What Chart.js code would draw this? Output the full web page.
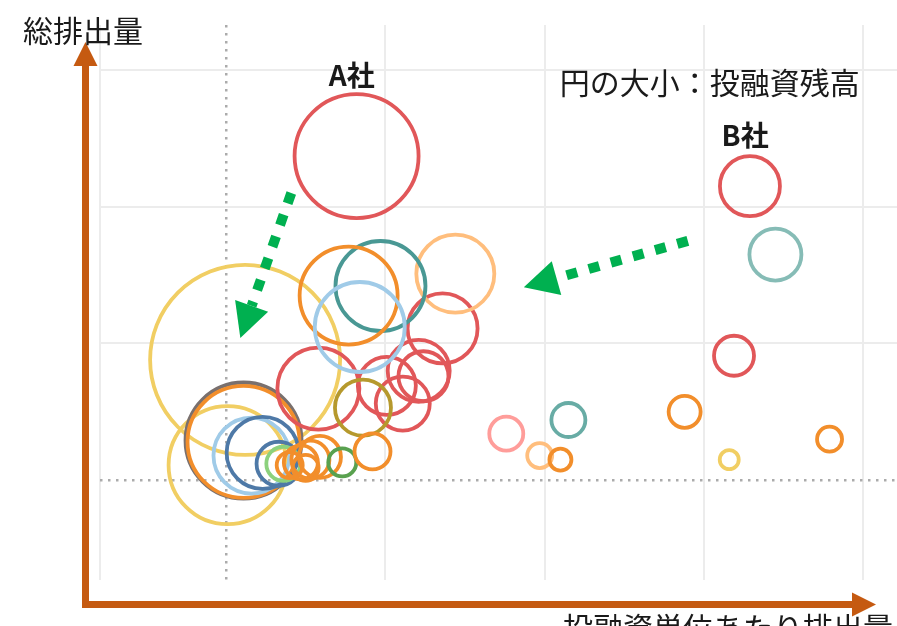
<!DOCTYPE html>
<html lang="ja">
<head>
<meta charset="UTF-8">
<title>総排出量と投融資単位あたり排出量</title>
<script src="https://cdn.jsdelivr.net/npm/chart.js@4.4.0/dist/chart.umd.min.js"></script>
<style>
  body { margin: 0; background: #fff; }
  canvas { display: block; }
</style>
</head>
<body>
<canvas id="bubbleChart" width="897" height="626"></canvas>
<script>
// values (axis units are arbitrary, the chart has no tick labels)
const xTickValues = [1, 2, 3, 4, 5];
const yTickValues = [1, 2, 3, 4];
const averageX = 1;   // dotted line
const averageY = 1;   // dotted line

// 投融資単位あたり排出量
const intensity = [1.12, 1.01, 1.11, 1.11, 1.16, 1.23, 1.58, 2.01, 2.11, 2.21, 2.24, 2.36, 1.86, 2.44, 1.97, 1.77, 1.84, 1.82,
                   1.33, 1.36, 1.40, 1.47, 1.53, 1.59, 1.50, 1.73, 1.92, 2.76, 2.97, 3.10, 3.15, 3.88, 4.19, 4.16, 4.79, 4.29, 4.45];
// 総排出量
const emissions = [1.88, 1.11, 1.29, 1.28, 1.18, 1.20, 1.67, 1.69, 1.56, 1.80, 1.76, 2.11, 1.53, 2.51, 2.42, 2.35, 2.12, 3.37,
                   1.12, 1.12, 1.11, 1.13, 1.15, 1.17, 1.09, 1.13, 1.21, 1.34, 1.18, 1.15, 1.44, 1.50, 1.91, 1.15, 1.30, 3.15, 2.65];
// 投融資残高 (circle size)
const balance = [9.5, 5.9, 5.8, 5.6, 3.8, 3.6, 4.1, 2.9, 2.7, 3.1, 2.5, 3.5, 2.8, 3.9, 4.5, 4.9, 4.5, 6.2,
                 2.2, 1.7, 1.3, 1.7, 1.9, 2.1, 1.3, 1.4, 1.8, 1.7, 1.25, 1.1, 1.7, 1.6, 2.0, 0.95, 1.25, 3.0, 2.6];
// colour group of each circle
const group = ['yellow', 'yellow', 'gray', 'orange', 'lightBlue', 'blue', 'red', 'red', 'red', 'red', 'red', 'red', 'olive',
               'lightOrange', 'teal', 'orange', 'lightBlue', 'red',
               'blue', 'lightGreen', 'orange', 'orange', 'orange', 'orange', 'orange', 'green', 'orange', 'pink',
               'lightOrange', 'orange', 'midTeal', 'orange', 'red', 'yellow', 'orange', 'red', 'lightTeal'];

const companyLabels = [
    { text: 'A社', x: 1.79, y: 3.96 },
    { text: 'B社', x: 4.26, y: 3.52 }
];
const sizeNote = { text: '円の大小：投融資残高', x: 4.98, y: 3.91 };
const trendArrows = [
    { from: [1.41, 3.10], to: [1.09, 2.04] },
    { from: [3.90, 2.75], to: [2.87, 2.41] }
];
const yTitle = '総排出量';
const xTitle = '投融資単位あたり排出量';

const palette = {
    red: '#e15759', lightTeal: '#86bcb6', teal: '#499894', midTeal: '#68aca5',
    orange: '#f28e2b', lightOrange: '#ffbe7d', yellow: '#f1ce63', pink: '#ff9d9a',
    lightBlue: '#a0cbe8', blue: '#4e79a7', green: '#59a14f', lightGreen: '#8cd17d',
    olive: '#b6992d', gray: '#79706e'
};
const RADIUS_PER_UNIT = 10;
const FONT = '"Noto Sans CJK JP", "Noto Sans", sans-serif';
const AXIS_COLOR = '#c55a11';
const ARROW_GREEN = '#00b050';

function drawDashedArrow(ctx, x1, y1, x2, y2) {
    const ang = Math.atan2(y2 - y1, x2 - x1);
    const headLen = 34, headW = 35;
    const bx = x2 - headLen * Math.cos(ang), by = y2 - headLen * Math.sin(ang);
    ctx.save();
    ctx.strokeStyle = ARROW_GREEN;
    ctx.lineWidth = 10;
    ctx.setLineDash([11, 12]);
    ctx.beginPath();
    ctx.moveTo(x1, y1);
    ctx.lineTo(bx, by);
    ctx.stroke();
    ctx.setLineDash([]);
    ctx.fillStyle = ARROW_GREEN;
    ctx.beginPath();
    ctx.moveTo(x2, y2);
    ctx.lineTo(bx + headW / 2 * Math.sin(ang), by - headW / 2 * Math.cos(ang));
    ctx.lineTo(bx - headW / 2 * Math.sin(ang), by + headW / 2 * Math.cos(ang));
    ctx.closePath();
    ctx.fill();
    ctx.restore();
}

const decorations = {
    id: 'decorations',
    afterDatasetsDraw(chart) {
        const ctx = chart.ctx;
        const area = chart.chartArea;
        const xs = chart.scales.x, ys = chart.scales.y;

        // axis arrows
        const vx = area.left - 14.5, hy = area.bottom + 24.5;
        ctx.save();
        ctx.fillStyle = AXIS_COLOR;
        ctx.fillRect(vx - 3.5, area.top + 40, 7, hy + 3.5 - area.top - 40);
        ctx.fillRect(vx - 3.5, hy - 3.5, 852 - vx + 3.5, 7);
        ctx.beginPath();
        ctx.moveTo(vx, area.top + 17);
        ctx.lineTo(vx - 12, area.top + 41);
        ctx.lineTo(vx + 12, area.top + 41);
        ctx.closePath();
        ctx.fill();
        ctx.beginPath();
        ctx.moveTo(876, hy);
        ctx.lineTo(852, hy - 12);
        ctx.lineTo(852, hy + 12);
        ctx.closePath();
        ctx.fill();

        // axis titles
        ctx.fillStyle = '#1a1a1a';
        ctx.font = '30px ' + FONT;
        ctx.textAlign = 'left';
        ctx.textBaseline = 'middle';
        ctx.fillText(yTitle, 23, 31);
        ctx.textBaseline = 'top';
        ctx.fillText(xTitle, 563, 613);

        // note and company labels
        ctx.textBaseline = 'middle';
        ctx.textAlign = 'right';
        ctx.fillText(sizeNote.text, xs.getPixelForValue(sizeNote.x), ys.getPixelForValue(sizeNote.y));
        ctx.font = 'bold 28px ' + FONT;
        ctx.textAlign = 'center';
        companyLabels.forEach(l => {
            ctx.fillText(l.text, xs.getPixelForValue(l.x), ys.getPixelForValue(l.y));
        });
        ctx.restore();

        trendArrows.forEach(a => {
            drawDashedArrow(ctx,
                xs.getPixelForValue(a.from[0]), ys.getPixelForValue(a.from[1]),
                xs.getPixelForValue(a.to[0]), ys.getPixelForValue(a.to[1]));
        });
    }
};

function gridColor(avg) {
    return ctx => (ctx.tick && ctx.tick.value === avg) ? '#ababab' : '#ececec';
}
function gridWidth(avg) {
    return ctx => (ctx.tick && ctx.tick.value === avg) ? 2.5 : 2;
}
function gridDash(avg) {
    return ctx => (ctx.tick && ctx.tick.value === avg) ? [2.5, 5.5] : [];
}

const xMin = 1 - 126 / 159.25, xMax = 5 + 34 / 159.25;
const yMin = 1 - 100 / 137, yMax = 4 + 45 / 137;

new Chart(document.getElementById('bubbleChart'), {
    type: 'bubble',
    data: {
        datasets: [{
            data: intensity.map((x, i) => ({ x: x, y: emissions[i], r: balance[i] * RADIUS_PER_UNIT })),
            borderColor: group.map(g => palette[g]),
            backgroundColor: 'rgba(0,0,0,0)',
            borderWidth: 3.8,
            hoverBorderWidth: 3.8
        }]
    },
    options: {
        responsive: false,
        animation: false,
        events: [],
        layout: { autoPadding: false, padding: { left: 100, top: 25, right: 0, bottom: 46 } },
        plugins: { legend: { display: false }, tooltip: { enabled: false } },
        scales: {
            x: {
                type: 'linear', min: xMin, max: xMax,
                afterBuildTicks: s => { s.ticks = [xMin].concat(xTickValues).map(v => ({ value: v })); },
                ticks: { display: false },
                grid: { drawTicks: false, lineWidth: gridWidth(averageX), color: gridColor(averageX) },
                border: { display: false, dash: gridDash(averageX) }
            },
            y: {
                type: 'linear', min: yMin, max: yMax,
                afterBuildTicks: s => { s.ticks = yTickValues.map(v => ({ value: v })); },
                ticks: { display: false },
                grid: { drawTicks: false, lineWidth: gridWidth(averageY), color: gridColor(averageY) },
                border: { display: false, dash: gridDash(averageY) }
            }
        }
    },
    plugins: [decorations]
});
</script>
</body>
</html>
